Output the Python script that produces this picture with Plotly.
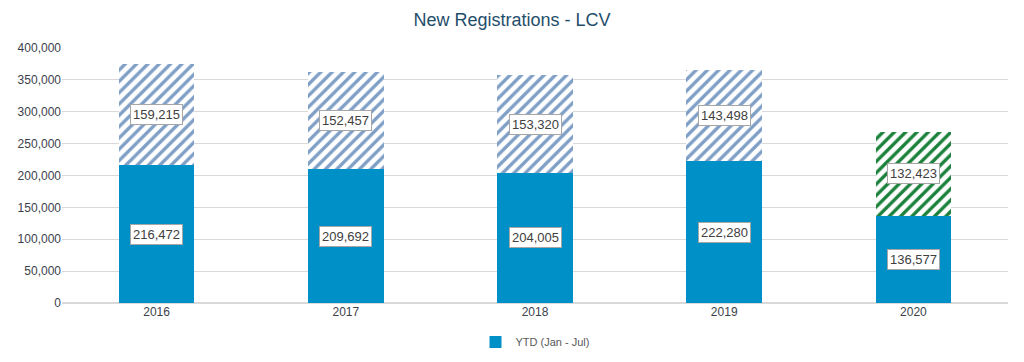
import plotly.graph_objects as go

years = ["2016", "2017", "2018", "2019", "2020"]
ytd = [216472, 209692, 204005, 222280, 136577]
rest = [159215, 152457, 153320, 143498, 132423]
rest_colors = ["#7f9fc6", "#7f9fc6", "#7f9fc6", "#7f9fc6", "#1a813b"]
y_ticks = [0, 50000, 100000, 150000, 200000, 250000, 300000, 350000, 400000]

fig = go.Figure()
fig.add_trace(go.Bar(
    x=years, y=ytd, name="YTD (Jan - Jul)",
    marker=dict(color="#0090c8", line=dict(width=0)),
    showlegend=True,
))
fig.add_trace(go.Bar(
    x=years, y=rest, name="Rest of year",
    marker=dict(color="white", line=dict(width=0),
                pattern=dict(shape="/", fgcolor=rest_colors, bgcolor="white",
                             size=8, solidity=0.42, fgopacity=1)),
    showlegend=False,
))

annotations = []
for i, yr in enumerate(years):
    for val, mid in ((ytd[i], ytd[i] / 2), (rest[i], ytd[i] + rest[i] / 2)):
        annotations.append(dict(
            x=i, y=mid, xref="x", yref="y", text=f"{val:,}", showarrow=False,
            font=dict(family="Liberation Sans, Arial", size=13, color="#404040"),
            bgcolor="white", bordercolor="#a6a6a6", borderwidth=1, borderpad=2,
        ))

fig.update_layout(
    barmode="stack",
    bargap=0.6,
    width=1008, height=346,
    margin=dict(l=54, r=8, t=40, b=51, autoexpand=False),
    paper_bgcolor="white", plot_bgcolor="white",
    title=dict(text="New Registrations - LCV", x=0.5, xanchor="center", yref="container",
               y=1 - 12 / 346, yanchor="middle",
               font=dict(family="Liberation Sans, Arial", size=18, color="#1f4e6b")),
    font=dict(family="Liberation Sans, Arial", size=12, color="#3b3f4a"),
    xaxis=dict(type="category", range=[-0.5, 4.5], showgrid=False, showline=False, ticks="",
               tickfont=dict(size=12, color="#3b3f4a")),
    yaxis=dict(range=[0, 400000], tickvals=y_ticks, tickformat=",", showgrid=True,
               gridcolor="#d9d9d9", gridwidth=1, zeroline=True, zerolinecolor="#d9d9d9",
               ticks="", tickfont=dict(size=12, color="#3b3f4a")),
    legend=dict(orientation="h", x=0.5, xanchor="center", yref="container", y=12 / 346,
                yanchor="middle", font=dict(size=11, color="#595959"), itemwidth=30),
    annotations=annotations,
)

fig.write_html("out.html")
